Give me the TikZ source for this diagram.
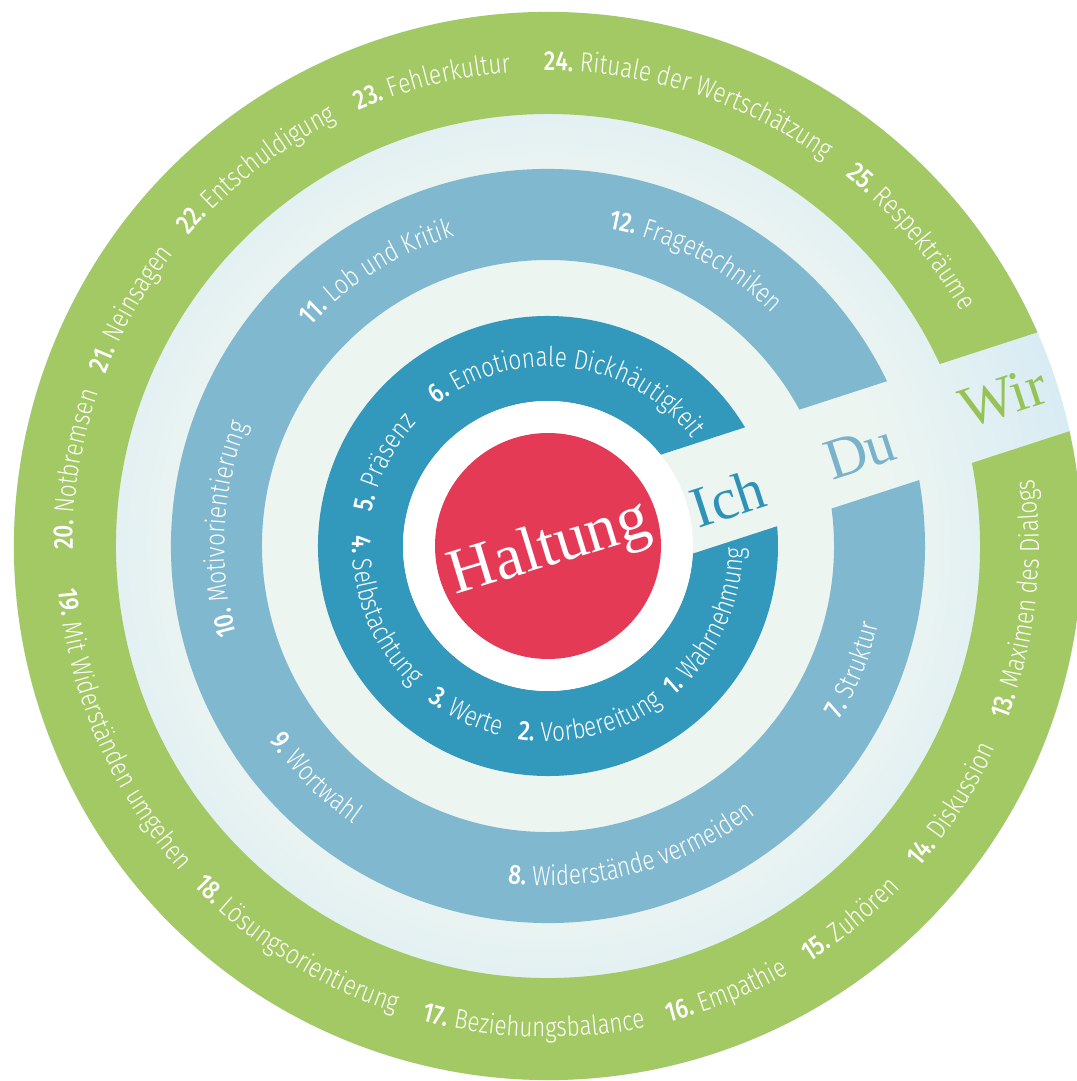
\documentclass[tikz,border=0pt]{standalone}
\usepackage{fontspec}
\usetikzlibrary{decorations.text}
\IfFontExistsTF{Fira Sans Light}{%
  \IfFontExistsTF{Fira Sans Medium}{%
    \newfontfamily\lab{Fira Sans Light}[BoldFont={Fira Sans Medium},FakeStretch=0.82]}{%
    \newfontfamily\lab{Fira Sans Light}[BoldFont={Fira Sans},FakeStretch=0.82]}}{%
  \newfontfamily\lab{Fira Sans}[FakeStretch=0.82]}
\newfontfamily\ser{Liberation Serif}
\definecolor{ringred}{HTML}{E43A56}
\definecolor{ringdark}{HTML}{3399BC}
\definecolor{ringlight}{HTML}{80B9CF}
\definecolor{ringgreen}{HTML}{A3C964}
\definecolor{ichcol}{HTML}{2F93B8}
\definecolor{ducol}{HTML}{78B2CB}
\definecolor{wircol}{HTML}{97C257}
\definecolor{bgA}{HTML}{EDF5F1}
\definecolor{bgB}{HTML}{D6EBF4}
\pgfdeclareradialshading{marble}{\pgfpoint{0bp}{0bp}}{color(0bp)=(bgA); color(16bp)=(bgA); color(26bp)=(bgB); color(50bp)=(bgB)}
\newcommand\lblf{\color{white}\lab\fontsize{27.5}{32}\selectfont}
\newcommand\lblb{\lblf\bfseries}
% ring with a straight gap (strip of half width 52 at 18 degrees)
\newcommand\ringseg[3]{%
  \pgfmathsetmacro\rsou{18+asin(52/#2)}%
  \pgfmathsetmacro\rsod{378-asin(52/#2)}%
  \pgfmathsetmacro\rsiu{18+asin(52/#1)}%
  \pgfmathsetmacro\rsid{378-asin(52/#1)}%
  \fill[#3] (\rsou:#2) arc[start angle=\rsou, end angle=\rsod, radius=#2] -- (\rsid:#1) arc[start angle=\rsid, end angle=\rsiu, radius=#1] -- cycle;}
% labels: radius, centre angle, text
\newcommand\toplabel[3]{%
  \path[decorate,decoration={text along path,text align=center,text={#3}}] (#2+80:#1) arc[start angle=#2+80, end angle=#2-80, radius=#1];}
\newcommand\botlabel[3]{%
  \path[decorate,decoration={text along path,text align=center,text={#3}}] (#2-80:#1) arc[start angle=#2-80, end angle=#2+80, radius=#1];}
\tikzset{serifword/.style={inner sep=0pt, rotate=18, font=\ser\fontsize{58}{64}\selectfont}}
\begin{document}
\begin{tikzpicture}[x=1pt,y=1pt]
\useasboundingbox (-548,-535) rectangle (528,546);
\fill[white] (-548,-535) rectangle (528,546);
\shade[shading=marble] (0,0) circle (534);
\ringseg{432}{534}{ringgreen}
\ringseg{286}{377}{ringlight}
\ringseg{145}{230}{ringdark}
\fill[white] (0,0) circle (145);
\fill[ringred] (0,0) circle (113);
\node[inner sep=0pt, rotate=17, text=white, font=\ser\fontsize{64}{70}\selectfont] (haltung) at (2,-4) {Haltung};
\node[serifword, text=ichcol] (ich) at (180,48) {Ich};
\node[serifword, text=ducol] (du) at (312,94) {Du};
\node[serifword, text=wircol] (wir) at (455,149) {Wir};
% dark ring
\toplabel{179.5}{153}{|\lblb|5.|\lblf| Präsenz}
\toplabel{179.5}{82.5}{|\lblb|6.|\lblf| Emotionale Dickhäutigkeit}
\botlabel{195.5}{201.5}{|\lblb|4.|\lblf| Selbstachtung}
\botlabel{195.5}{244}{|\lblb|3.|\lblf| Werte}
\botlabel{195.5}{283.5}{|\lblb|2.|\lblf| Vorbereitung}
\botlabel{195.5}{334.5}{|\lblb|1.|\lblf| Wahrnehmung}
% light ring
\toplabel{323.5}{177}{|\lblb|10.|\lblf| Motivorientierung}
\toplabel{323.5}{122}{|\lblb|11.|\lblf| Lob und Kritik}
\toplabel{323.5}{62.6}{|\lblb|12.|\lblf| Fragetechniken}
\botlabel{339.5}{225}{|\lblb|9.|\lblf| Wortwahl}
\botlabel{339.5}{285.5}{|\lblb|8.|\lblf| Widerstände vermeiden}
\botlabel{339.5}{338}{|\lblb|7.|\lblf| Struktur}
% green ring
\toplabel{475}{170.8}{|\lblb|20.|\lblf| Notbremsen}
\toplabel{475}{150.4}{|\lblb|21.|\lblf| Neinsagen}
\toplabel{475}{127.8}{|\lblb|22.|\lblf| Entschuldigung}
\toplabel{475}{104}{|\lblb|23.|\lblf| Fehlerkultur}
\toplabel{475}{72.4}{|\lblb|24.|\lblf| Rituale der Wertschätzung}
\toplabel{475}{40.4}{|\lblb|25.|\lblf| Respekträume}
\botlabel{491}{203.3}{|\lblb|19.|\lblf| Mit Widerständen umgehen}
\botlabel{491}{237.8}{|\lblb|18.|\lblf| Lösungsorientierung}
\botlabel{491}{268.3}{|\lblb|17.|\lblf| Beziehungsbalance}
\botlabel{491}{291.8}{|\lblb|16.|\lblf| Empathie}
\botlabel{491}{309}{|\lblb|15.|\lblf| Zuhören}
\botlabel{491}{327.4}{|\lblb|14.|\lblf| Diskussion}
\botlabel{491}{353.5}{|\lblb|13.|\lblf| Maximen des Dialogs}
\end{tikzpicture}
\end{document}
